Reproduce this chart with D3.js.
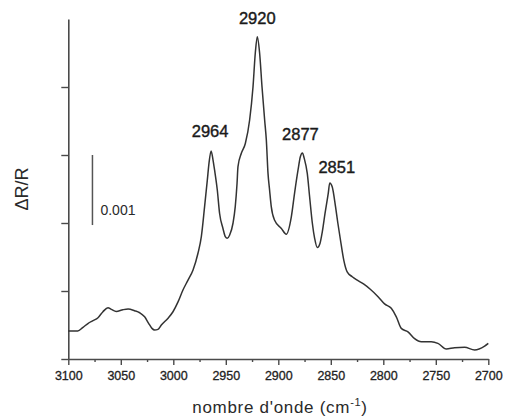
<!DOCTYPE html>
<meta charset="utf-8">
<script src="https://d3js.org/d3.v7.min.js"></script>
<style>
  html, body { margin: 0; padding: 0; background: #fff; }
  svg { font-family: 'Liberation Sans', Arial, sans-serif; }
</style>
<body>
<div id="my_dataviz"></div>

<script>

// spectrum: wavenumber (cm-1) and dR/R in units of 0.001
var wavenumbers = [3100, 3097, 3091, 3086, 3081, 3076.5, 3071.7, 3067, 3062.2, 3059, 3054.3, 3048, 3043,
  3036.9, 3032, 3027.3, 3023.5, 3020.3, 3017.8, 3014.6, 3011.4, 3005, 3000.3, 2995.5, 2990.8, 2986,
  2981.2, 2976.5, 2973.3, 2970.2, 2967.6, 2966, 2964, 2962.2, 2960.7, 2958.1, 2955.9, 2952.7, 2950.5,
  2948.6, 2946.4, 2943.1, 2941, 2939.3, 2938.4, 2935.2, 2931.4, 2927.3, 2924.1, 2921.9, 2920, 2917.8,
  2915.5, 2913, 2911.4, 2909.8, 2908.3, 2906.7, 2903.5, 2897.1, 2892.4, 2887.6, 2884.5, 2881.2, 2879,
  2877, 2875.3, 2872.4, 2870.2, 2867.6, 2865.4, 2862.9, 2860.3, 2858.1, 2855.5, 2852.4, 2851, 2848.6,
  2845.5, 2843.3, 2840.8, 2837.6, 2834.4, 2829.6, 2824.8, 2818.5, 2812.4, 2805, 2798.8, 2792.4, 2787.6,
  2782.9, 2776.5, 2770.2, 2763.8, 2754.3, 2748, 2740, 2732.1, 2722.6, 2713, 2703.5, 2700];

var deltaR = [0.41, 0.41, 0.41, 0.466, 0.525, 0.563, 0.607, 0.696, 0.754, 0.73, 0.70, 0.725, 0.735,
  0.71, 0.68, 0.62, 0.525, 0.45, 0.426, 0.436, 0.50, 0.60, 0.695, 0.84, 1.015, 1.16,
  1.31, 1.555, 1.8, 2.24, 2.63, 2.88, 3.06, 2.93, 2.78, 2.485, 2.14, 1.92, 1.8,
  1.775, 1.82, 2.0, 2.24, 2.58, 2.83, 3.025, 3.17, 3.515, 4.0, 4.5, 4.74, 4.5,
  4.0, 3.515, 3.22, 2.73, 2.485, 2.24, 2.04, 1.92, 1.835, 2.09, 2.44, 2.78, 2.975,
  3.03, 2.95, 2.73, 2.39, 2.0, 1.775, 1.64, 1.70, 1.87, 2.14, 2.44, 2.59, 2.53,
  2.24, 2.0, 1.75, 1.45, 1.28, 1.21, 1.16, 1.10, 1.025, 0.916, 0.81, 0.745, 0.62,
  0.45, 0.40, 0.30, 0.254, 0.254, 0.23, 0.147, 0.166, 0.172, 0.132, 0.19, 0.23];

var peakNames = ["2964", "2920", "2877", "2851"];
var peakWn = [2964, 2920, 2877, 2851];
var peakVal = [3.06, 4.74, 3.03, 2.59];

var xMajor = [3100, 3050, 3000, 2950, 2900, 2850, 2800, 2750, 2700];
var xMinor = [3075, 3025, 2975, 2925, 2875, 2825, 2775, 2725];
var yTicks = [0, 1, 2, 3, 4];

var data = wavenumbers.map(function(w, i) { return {wn: w, v: deltaR[i]}; });

var width = 505, height = 418;

var svg = d3.select("#my_dataviz")
  .append("svg")
    .attr("width", width)
    .attr("height", height);

var x = d3.scaleLinear()
  .domain([3100, 2700])
  .range([68.3, 488.3]);

var y = d3.scaleLinear()
  .domain([0, 5])
  .range([359, 19]);

var axisColor = "#4a4a4a";

// minor ticks on x
svg.append("g")
  .attr("transform", "translate(0," + y(0) + ")")
  .call(d3.axisBottom(x).tickValues(xMinor).tickSize(3).tickFormat(""))
  .call(function(g) { g.select(".domain").remove(); })
  .selectAll("line").attr("stroke", axisColor).attr("stroke-width", 1.4);

// X axis
var gx = svg.append("g")
  .attr("transform", "translate(0," + y(0) + ")")
  .call(d3.axisBottom(x).tickValues(xMajor).tickSize(6).tickSizeOuter(0).tickPadding(6).tickFormat(d3.format("d")));
gx.select(".domain").attr("stroke", axisColor).attr("stroke-width", 1.6);
gx.selectAll("line").attr("stroke", axisColor).attr("stroke-width", 1.4);
gx.selectAll("text")
  .attr("fill", "#222")
  .attr("stroke", "#222")
  .attr("stroke-width", 0.3)
  .style("font-size", "12.5px")
  .style("font-family", "'Liberation Sans', Arial, sans-serif");

// Y axis, no labels
var gy = svg.append("g")
  .attr("transform", "translate(" + x(3100) + ",0)")
  .call(d3.axisLeft(y).tickValues(yTicks).tickSize(7).tickSizeOuter(0).tickFormat(""));
gy.select(".domain").attr("stroke", axisColor).attr("stroke-width", 1.6);
gy.selectAll("line").attr("stroke", axisColor).attr("stroke-width", 1.4);

// x label
var xl = svg.append("text")
  .attr("x", 280)
  .attr("y", 413)
  .attr("text-anchor", "middle")
  .attr("fill", "#2a2a2a")
  .style("font-size", "17px")
  .style("letter-spacing", "0.7px");
xl.append("tspan").text("nombre d'onde (cm");
xl.append("tspan").attr("dy", -7).style("font-size", "11px").text("-1");
xl.append("tspan").attr("dy", 7).text(")");

// y label
svg.append("text")
  .attr("transform", "translate(28," + 189 + ") rotate(-90)")
  .attr("text-anchor", "middle")
  .attr("fill", "#2a2a2a")
  .style("font-size", "18px")
  .text("\u0394R/R");

// scale bar of 0.001
var barWn = 3077;
svg.append("line")
  .attr("x1", x(barWn)).attr("x2", x(barWn))
  .attr("y1", y(3)).attr("y2", y(1.97))
  .attr("stroke", "#555")
  .attr("stroke-width", 1.5);
svg.append("text")
  .attr("x", x(barWn) + 8)
  .attr("y", y(2.12))
  .attr("fill", "#2a2a2a")
  .style("font-size", "14px")
  .text("0.001");

// spectrum
svg.append("path")
  .datum(data)
  .attr("fill", "none")
  .attr("stroke", "#333")
  .attr("stroke-width", 1.5)
  .attr("stroke-linejoin", "round")
  .attr("d", d3.line()
    .curve(d3.curveMonotoneX)
    .x(function(d) { return x(d.wn); })
    .y(function(d) { return y(d.v); })
  );

// peak labels
var labelDx = [-1, 0, -2, 7];
var labelDy = [-14, -13, -13, -10];
svg.selectAll(".peak")
  .data(peakNames)
  .enter()
  .append("text")
    .attr("class", "peak")
    .attr("x", function(d, i) { return x(peakWn[i]) + labelDx[i]; })
    .attr("y", function(d, i) { return y(peakVal[i]) + labelDy[i]; })
    .attr("text-anchor", "middle")
    .attr("fill", "#1a1a1a")
    .attr("stroke", "#1a1a1a")
    .attr("stroke-width", 0.4)
    .style("font-size", "16.5px")
    .text(function(d) { return d; });

</script>
</body>
